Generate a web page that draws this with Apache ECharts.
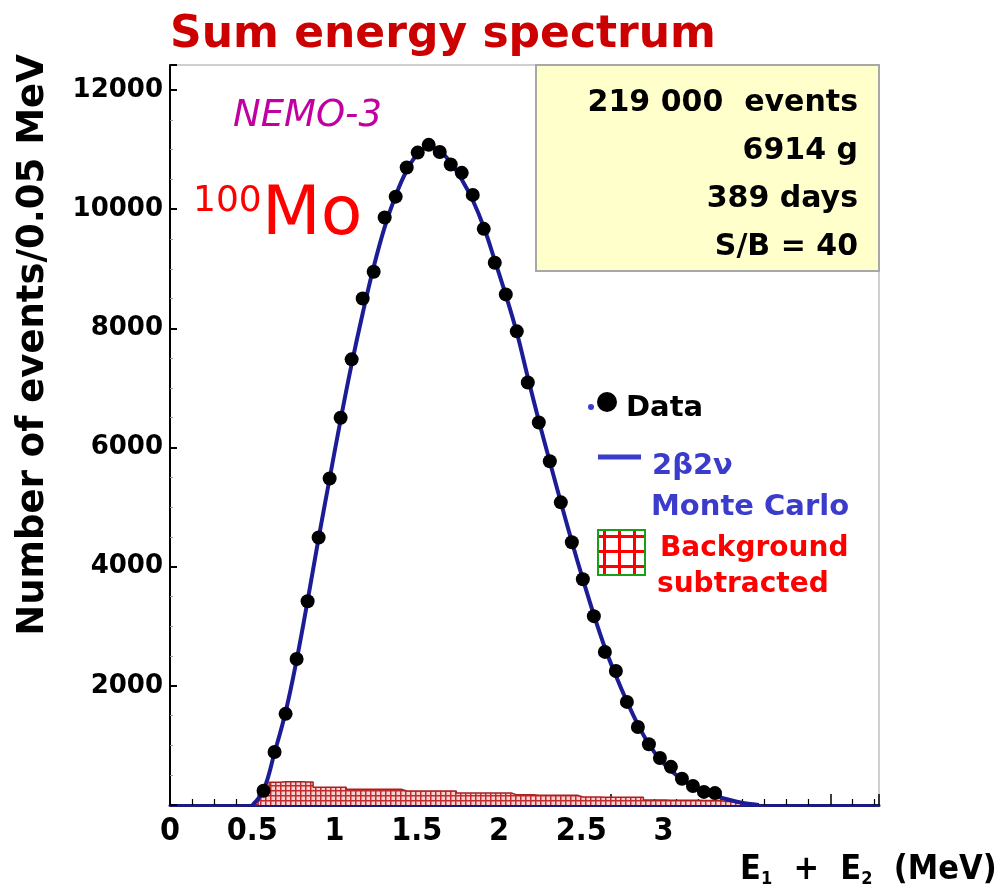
<!DOCTYPE html>
<html>
<head>
<meta charset="utf-8">
<title>Sum energy spectrum</title>
<script src="https://cdn.jsdelivr.net/npm/echarts@6/dist/echarts.min.js"></script>
<style>
  html, body { margin: 0; padding: 0; background: #fff; }
  #main { width: 1007px; height: 893px; }
</style>
</head>
<body>
<div id="main"></div>
<script>
// data points, bin centres in MeV (bins of 0.05 MeV)
var dataEnergy = [0.425, 0.475, 0.525, 0.575, 0.625, 0.675, 0.725, 0.775, 0.825, 0.875,
  0.925, 0.975, 1.025, 1.075, 1.125, 1.175, 1.225, 1.275, 1.325, 1.375,
  1.425, 1.475, 1.525, 1.575, 1.625, 1.675, 1.725, 1.775, 1.825, 1.875,
  1.925, 1.975, 2.025, 2.075, 2.125, 2.175, 2.225, 2.275, 2.325, 2.375,
  2.425, 2.475];
var dataCounts = [240, 890, 1530, 2450, 3420, 4490, 5480, 6500, 7480, 8500,
  8950, 9860, 10210, 10700, 10950, 11080, 10960, 10750, 10610, 10240,
  9670, 9100, 8570, 7950, 7090, 6420, 5770, 5080, 4410, 3790,
  3170, 2570, 2250, 1730, 1310, 1020, 790, 640, 440, 320,
  220, 200];

// 2b2v Monte Carlo curve
var mcEnergy = [0.375, 0.425, 0.475, 0.525, 0.575, 0.625, 0.675, 0.725, 0.775, 0.825,
  0.875, 0.925, 0.975, 1.025, 1.075, 1.125, 1.175, 1.225, 1.275, 1.325,
  1.375, 1.425, 1.475, 1.525, 1.575, 1.625, 1.675, 1.725, 1.775, 1.825,
  1.875, 1.925, 1.975, 2.025, 2.075, 2.125, 2.175, 2.225, 2.275, 2.325,
  2.375, 2.425, 2.475, 2.525, 2.575, 2.625, 2.675];
var mcCounts = [0, 250, 880, 1560, 2430, 3430, 4480, 5480, 6470, 7400,
  8250, 9030, 9700, 10230, 10650, 10930, 11040, 10980, 10780, 10500,
  10150, 9700, 9140, 8560, 7930, 7180, 6450, 5760, 5080, 4420,
  3790, 3190, 2640, 2170, 1740, 1350, 1020, 770, 580, 430,
  310, 220, 160, 100, 55, 20, 0];

// subtracted background histogram
var bkgEnergy = [0.375, 0.425, 0.475, 0.525, 0.575, 0.625, 0.675, 0.725, 0.775, 0.825,
  0.875, 0.925, 0.975, 1.025, 1.075, 1.125, 1.175, 1.225, 1.275, 1.325,
  1.375, 1.425, 1.475, 1.525, 1.575, 1.625, 1.675, 1.725, 1.775, 1.825,
  1.875, 1.925, 1.975, 2.025, 2.075, 2.125, 2.175, 2.225, 2.275, 2.325,
  2.375, 2.425, 2.475, 2.525, 2.575, 2.625];
var bkgCounts = [0, 290, 380, 390, 390, 385, 300, 300, 300, 265,
  265, 265, 265, 265, 235, 235, 235, 235, 235, 200,
  200, 200, 200, 200, 170, 170, 165, 165, 165, 165,
  135, 135, 130, 130, 130, 130, 85, 85, 80, 80,
  80, 75, 75, 60, 50, 0];

var xTickLabels = ['0', '0.5', '1', '1.5', '2', '2.5', '3'];
var yTickLabels = ['2000', '4000', '6000', '8000', '10000', '12000'];
var infoLines = ['219 000  events', '6914 g', '389 days', 'S/B = 40'];

var FONT = "'Comic Sans MS', 'DejaVu Sans', sans-serif";
var NARROW = "'DejaVu Sans Condensed', 'DejaVu Sans', sans-serif";

function pairs(xs, ys) {
  var out = [];
  for (var i = 0; i < xs.length; i++) out.push([xs[i], ys[i]]);
  return out;
}

// cross-hatch fill for the background histogram
var hatch = document.createElement('canvas');
hatch.width = 5; hatch.height = 5;
var hc = hatch.getContext('2d');
hc.fillStyle = '#f4d2d2';
hc.fillRect(0, 0, 5, 5);
hc.fillStyle = '#c02c2c';
hc.fillRect(0, 0, 5, 1.5);
hc.fillRect(0, 0, 1.5, 5);

// bigger grid for the legend square
var grid2 = document.createElement('canvas');
grid2.width = 15; grid2.height = 15;
var gc = grid2.getContext('2d');
gc.fillStyle = '#ffffff';
gc.fillRect(0, 0, 15, 15);
gc.fillStyle = '#ff0000';
gc.fillRect(0, 5, 15, 3);
gc.fillRect(5, 0, 3, 15);

var chart = echarts.init(document.getElementById('main'));

chart.setOption({
  backgroundColor: '#ffffff',
  textStyle: { fontFamily: FONT },
  animation: false,
  title: {
    text: 'Sum energy spectrum',
    left: 165,
    top: 9,
    textStyle: { color: '#cc0000', fontSize: 44, fontWeight: 'bold', fontFamily: FONT }
  },
  grid: {
    left: 170, right: 128, top: 65, bottom: 88,
    show: true, borderColor: '#a0a0a0', borderWidth: 1
  },
  xAxis: [
    {
      type: 'value', min: 0, max: 3.22, interval: 0.5,
      axisLine: { show: true, lineStyle: { color: '#1a1a80', width: 3 } },
      axisTick: { show: true, inside: true, length: 11, lineStyle: { color: '#000', width: 1.5 } },
      minorTick: { show: true, splitNumber: 5, length: 6, lineStyle: { color: '#000', width: 1.2 } },
      axisLabel: { show: false },
      splitLine: { show: false }
    },
    {
      // the slide's energy labels, which sit on a compressed scale
      type: 'value', position: 'bottom', min: 0, max: 4.31, interval: 0.5,
      axisLine: { show: false }, axisTick: { show: false }, splitLine: { show: false },
      axisLabel: {
        margin: 11,
        color: '#000',
        fontSize: 32,
        fontWeight: 'bold',
        fontFamily: NARROW,
        formatter: function (v) {
          var s = String(v);
          return xTickLabels.indexOf(s) >= 0 ? s : '';
        }
      }
    }
  ],
  yAxis: [
    {
      type: 'value', min: 0, max: 12420, interval: 2000,
      axisLine: { show: false },
      axisTick: { show: true, inside: true, length: 7, lineStyle: { color: '#000', width: 2 } },
      minorTick: { show: true, splitNumber: 4, length: 3, lineStyle: { color: '#999', width: 1 } },
      splitLine: { show: false },
      axisLabel: {
        margin: 7,
        padding: [14, 0, 0, 0],
        color: '#000',
        fontSize: 26,
        fontWeight: 'bold',
        formatter: function (v) {
          var s = String(v);
          return yTickLabels.indexOf(s) >= 0 ? s : '';
        }
      }
    },
    {
      type: 'value', position: 'right', min: 0, max: 12420,
      axisLine: { show: true, lineStyle: { color: '#000', width: 2 } },
      axisTick: { show: false }, axisLabel: { show: false }, splitLine: { show: false }
    }
  ],
  series: [
    {
      name: 'Background subtracted',
      type: 'line',
      step: 'middle',
      symbol: 'none',
      z: 2,
      lineStyle: { color: '#a82020', width: 1.5 },
      areaStyle: { color: { image: hatch, repeat: 'repeat' }, opacity: 1 },
      data: pairs(bkgEnergy, bkgCounts)
    },
    {
      name: '2β2ν Monte Carlo',
      type: 'line',
      smooth: 0.4,
      symbol: 'none',
      z: 3,
      lineStyle: { color: '#1c1c96', width: 4 },
      data: pairs(mcEnergy, mcCounts)
    },
    {
      name: 'Data',
      type: 'scatter',
      symbol: 'circle',
      symbolSize: 14,
      z: 4,
      itemStyle: { color: '#000000', opacity: 1 },
      data: pairs(dataEnergy, dataCounts)
    }
  ],
  graphic: [
    {
      type: 'text', x: 33, y: 345, rotation: Math.PI / 2,
      style: {
        text: 'Number of events/0.05 MeV', fill: '#000',
        fontSize: 37, fontWeight: 'bold', fontFamily: FONT,
        align: 'center', verticalAlign: 'middle'
      }
    },
    {
      type: 'text', x: 233, y: 116,
      style: {
        text: 'NEMO-3', fill: '#c000a0', fontSize: 37, fontStyle: 'italic',
        fontFamily: FONT, verticalAlign: 'middle'
      }
    },
    {
      type: 'text', x: 193, y: 202,
      style: { text: '100', fill: '#ff0000', fontSize: 36, fontFamily: FONT, verticalAlign: 'middle' }
    },
    {
      type: 'text', x: 262, y: 216,
      style: { text: 'Mo', fill: '#ff0000', fontSize: 68, fontFamily: FONT, verticalAlign: 'middle' }
    },
    {
      type: 'rect', z: 10,
      shape: { x: 536, y: 65, width: 343, height: 206 },
      style: { fill: '#ffffcc', stroke: '#a8a8a8', lineWidth: 2 }
    },
    {
      type: 'group', z: 11,
      children: infoLines.map(function (t, i) {
        return {
          type: 'text', x: 858, y: 103 + i * 48, z: 11,
          style: {
            text: t, fill: '#000', fontSize: 30, fontWeight: 'bold', fontFamily: FONT,
            align: 'right', verticalAlign: 'middle'
          }
        };
      })
    },
    // legend
    { type: 'circle', shape: { cx: 591, cy: 407, r: 3 }, style: { fill: '#3b3bcc' }, z: 10 },
    { type: 'circle', shape: { cx: 607, cy: 402, r: 10 }, style: { fill: '#000' }, z: 10 },
    {
      type: 'text', x: 626, y: 408, z: 10,
      style: { text: 'Data', fill: '#000', fontSize: 29, fontWeight: 'bold', fontFamily: FONT, verticalAlign: 'middle' }
    },
    {
      type: 'line', z: 10, shape: { x1: 598, y1: 457, x2: 641, y2: 457 },
      style: { stroke: '#3b3bcc', lineWidth: 5 }
    },
    {
      type: 'text', x: 652, y: 466, z: 10,
      style: { text: '2β2ν', fill: '#3b3bcc', fontSize: 29, fontWeight: 'bold', fontFamily: FONT, verticalAlign: 'middle' }
    },
    {
      type: 'text', x: 651, y: 507, z: 10,
      style: { text: 'Monte Carlo', fill: '#3b3bcc', fontSize: 29, fontWeight: 'bold', fontFamily: FONT, verticalAlign: 'middle' }
    },
    {
      type: 'group', x: 598, y: 530, z: 10,
      children: [{
        type: 'rect', shape: { x: 0, y: 0, width: 47, height: 45 },
        style: { fill: { image: grid2, repeat: 'repeat' }, stroke: '#16a016', lineWidth: 2 }
      }]
    },
    {
      type: 'text', x: 660, y: 549, z: 10,
      style: { text: 'Background', fill: '#ff0000', fontSize: 28, fontWeight: 'bold', fontFamily: FONT, verticalAlign: 'middle' }
    },
    {
      type: 'text', x: 657, y: 585, z: 10,
      style: { text: 'subtracted', fill: '#ff0000', fontSize: 28, fontWeight: 'bold', fontFamily: FONT, verticalAlign: 'middle' }
    },
    // x axis title
    {
      type: 'text', x: 740, y: 870, z: 10,
      style: {
        text: '{b|E}{s|1}{b|  +  E}{s|2}{b|  (MeV)}',
        verticalAlign: 'middle',
        rich: {
          b: { fontSize: 34, fontWeight: 'bold', fill: '#000', fontFamily: NARROW, lineHeight: 36 },
          s: { fontSize: 18, fontWeight: 'bold', fill: '#000', fontFamily: NARROW, lineHeight: 36, verticalAlign: 'bottom' }
        }
      }
    }
  ]
});
</script>
</body>
</html>
